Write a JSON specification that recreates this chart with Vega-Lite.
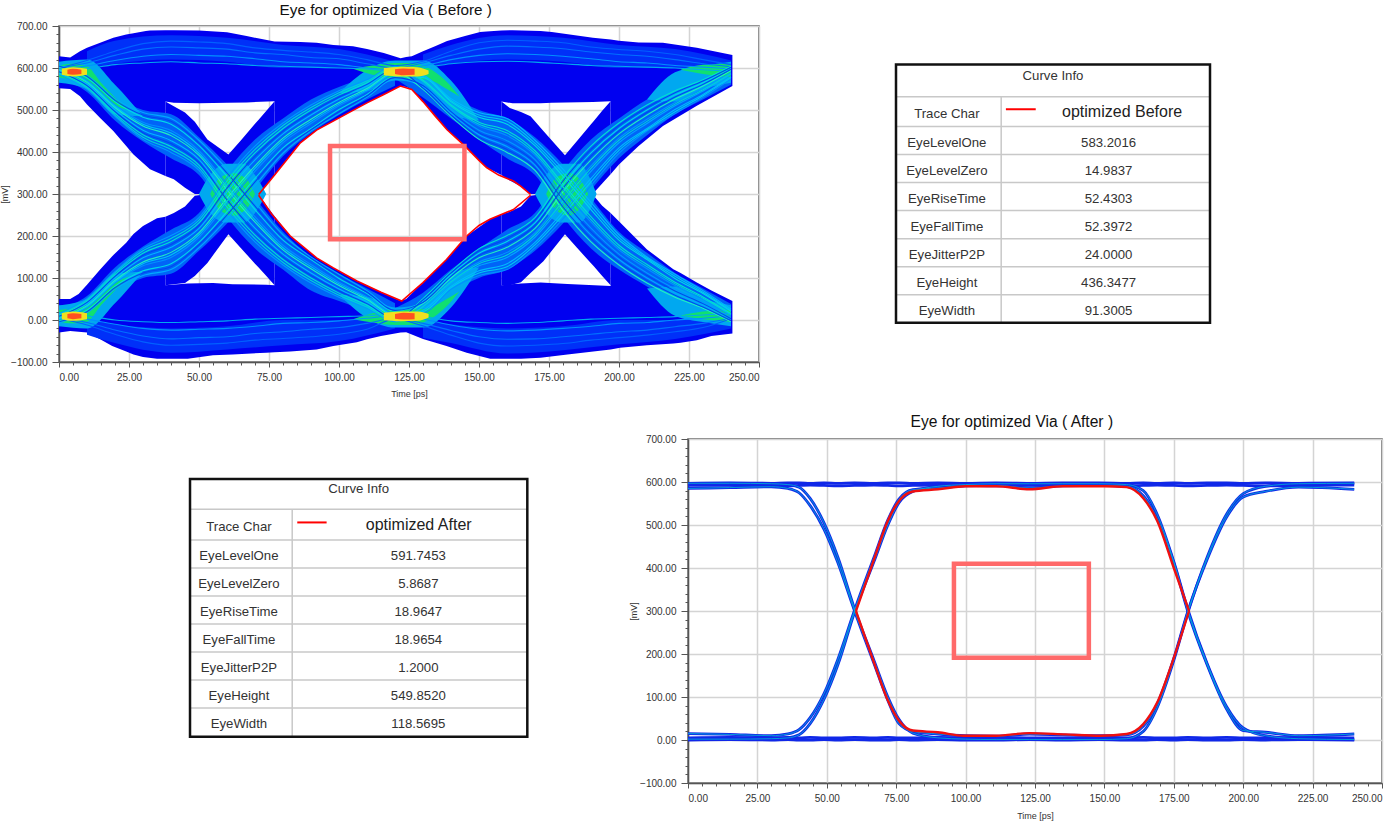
{"$schema":"https://vega.github.io/schema/vega-lite/v6.json","autosize":{"type":"none"},"padding":{"left":59,"top":26,"right":1341,"bottom":801},"background":"white","config":{"font":"Liberation Sans","view":{"stroke":"#555555","strokeWidth":1.5},"axis":{"labelFont":"Liberation Sans","titleFont":"Liberation Sans","labelFontSize":10,"labelColor":"#333333","titleFontSize":9,"titleColor":"#333333","titleFontWeight":"normal","domainColor":"#555555","domainWidth":1.5,"tickColor":"#555555","tickWidth":1,"gridColor":"#d4d4d4","gridWidth":1.5,"format":".2f"}},
"datasets":{
"blue":[
{"s":"T","x":0,"y2":628,"y":552},{"s":"T","x":4,"y2":625,"y":550},{"s":"T","x":7.5,"y2":640,"y":533},{"s":"T","x":10,"y2":648,"y":513},{"s":"T","x":14.7,"y2":660,"y":481},{"s":"T","x":19.4,"y2":672,"y":450},{"s":"T","x":24,"y2":680,"y":414},{"s":"T","x":26.6,"y2":683,"y":394},{"s":"T","x":31,"y2":688,"y":368},{"s":"T","x":32.5,"y2":689,"y":359},{"s":"T","x":38,"y2":690,"y":343},{"s":"T","x":38,"y2":690,"y":520},{"s":"T","x":41,"y2":690,"y":517},{"s":"T","x":50,"y2":689,"y":516},{"s":"T","x":60,"y2":685,"y":517},{"s":"T","x":67,"y2":676,"y":518},{"s":"T","x":77,"y2":663,"y":521},{"s":"T","x":77,"y2":663,"y":345},{"s":"T","x":86.2,"y2":662,"y":422},{"s":"T","x":92,"y2":660,"y":452},{"s":"T","x":98,"y2":655,"y":474},{"s":"T","x":105,"y2":652,"y":499},{"s":"T","x":110,"y2":645,"y":517},{"s":"T","x":116,"y2":636,"y":537},{"s":"T","x":122,"y2":623,"y":557},{"s":"T","x":124,"y2":626,"y":555},{"s":"T","x":126,"y2":628,"y":549},{"s":"T","x":130,"y2":640,"y":520},{"s":"T","x":134.3,"y2":652,"y":486},{"s":"T","x":138.6,"y2":664,"y":453},{"s":"T","x":145,"y2":676,"y":414},{"s":"T","x":150.4,"y2":686,"y":378},{"s":"T","x":152.7,"y2":687,"y":363},{"s":"T","x":158,"y2":689,"y":345},{"s":"T","x":158,"y2":689,"y":520},{"s":"T","x":162,"y2":690,"y":516},{"s":"T","x":172,"y2":688,"y":516},{"s":"T","x":176,"y2":686,"y":517},{"s":"T","x":190.7,"y2":672,"y":519},{"s":"T","x":197,"y2":668,"y":521},{"s":"T","x":197,"y2":668,"y":347},{"s":"T","x":200,"y2":665,"y":370},{"s":"T","x":207,"y2":661,"y":414},{"s":"T","x":215.7,"y2":660,"y":462},{"s":"T","x":227.8,"y2":648,"y":510},{"s":"T","x":240.5,"y2":631,"y":557},
{"s":"B","x":0,"y":-30,"y2":50},{"s":"B","x":4,"y":-26,"y2":50},{"s":"B","x":7,"y":-28,"y2":62},{"s":"B","x":10,"y":-30,"y2":84},{"s":"B","x":14.7,"y":-46,"y2":120},{"s":"B","x":19,"y":-62,"y2":152},{"s":"B","x":24,"y":-75,"y2":184},{"s":"B","x":26.6,"y":-82,"y2":205},{"s":"B","x":30,"y":-88,"y2":224},{"s":"B","x":35,"y":-92,"y2":242},{"s":"B","x":38,"y":-92,"y2":246},{"s":"B","x":38,"y":-92,"y2":83},{"s":"B","x":46,"y":-92,"y2":87},{"s":"B","x":55,"y":-84,"y2":88},{"s":"B","x":62,"y":-82,"y2":85},{"s":"B","x":74,"y":-78,"y2":84},{"s":"B","x":77,"y":-77,"y2":83},{"s":"B","x":77,"y":-77,"y2":247},{"s":"B","x":82.6,"y":-75,"y2":200},{"s":"B","x":92,"y":-70,"y2":148},{"s":"B","x":98,"y":-62,"y2":124},{"s":"B","x":106.4,"y":-53,"y2":93},{"s":"B","x":110,"y":-46,"y2":82},{"s":"B","x":115,"y":-38,"y2":66},{"s":"B","x":122,"y":-30,"y2":45},{"s":"B","x":124,"y":-29,"y2":50},{"s":"B","x":130,"y":-45,"y2":89},{"s":"B","x":138.4,"y":-62,"y2":144},{"s":"B","x":145.6,"y":-78,"y2":200},{"s":"B","x":154,"y":-92,"y2":240},{"s":"B","x":158,"y":-92,"y2":251},{"s":"B","x":158,"y":-92,"y2":83},{"s":"B","x":165,"y":-92,"y2":87},{"s":"B","x":172,"y":-90,"y2":89},{"s":"B","x":181.6,"y":-82,"y2":86},{"s":"B","x":197,"y":-70,"y2":81},{"s":"B","x":197,"y":-70,"y2":255},{"s":"B","x":200.4,"y":-66,"y2":232},{"s":"B","x":210,"y":-60,"y2":168},{"s":"B","x":219.4,"y":-56,"y2":121},{"s":"B","x":222,"y":-54,"y2":112},{"s":"B","x":227.8,"y":-48,"y2":89},{"s":"B","x":233,"y":-38,"y2":70},{"s":"B","x":240.5,"y":-32,"y2":45},
{"s":"U1","x":38,"y":343,"y2":520},{"s":"U1","x":41,"y":335,"y2":509},{"s":"U1","x":45,"y":315,"y2":494},{"s":"U1","x":48.5,"y":300,"y2":472},{"s":"U1","x":53,"y":300,"y2":430},{"s":"U1","x":60.5,"y":300,"y2":394},{"s":"U1","x":65,"y":300,"y2":428},{"s":"U1","x":70,"y":300,"y2":467},{"s":"U1","x":71.3,"y":300,"y2":477},{"s":"U1","x":74.3,"y":323,"y2":500},{"s":"U1","x":77,"y":345,"y2":521},
{"s":"D1","x":38,"y":83,"y2":246},{"s":"D1","x":41,"y":85,"y2":255},{"s":"D1","x":45,"y":88,"y2":270},{"s":"D1","x":48.5,"y":105,"y2":296},{"s":"D1","x":53,"y":136,"y2":300},{"s":"D1","x":60.5,"y":204,"y2":300},{"s":"D1","x":65,"y":171,"y2":300},{"s":"D1","x":70,"y":134,"y2":300},{"s":"D1","x":71.3,"y":125,"y2":300},{"s":"D1","x":74.3,"y":103,"y2":270},{"s":"D1","x":77,"y":83,"y2":247},
{"s":"U2","x":158,"y":345,"y2":520},{"s":"U2","x":161,"y":332,"y2":505},{"s":"U2","x":165,"y":318,"y2":495},{"s":"U2","x":168.4,"y":300,"y2":485},{"s":"U2","x":173,"y":300,"y2":450},{"s":"U2","x":180.7,"y":300,"y2":392},{"s":"U2","x":185,"y":300,"y2":426},{"s":"U2","x":190,"y":300,"y2":466},{"s":"U2","x":191,"y":303,"y2":474},{"s":"U2","x":194,"y":325,"y2":498},{"s":"U2","x":197,"y":347,"y2":521},
{"s":"D2","x":158,"y":83,"y2":251},{"s":"D2","x":161,"y":83,"y2":258},{"s":"D2","x":165,"y":90,"y2":270},{"s":"D2","x":168.4,"y":112,"y2":296},{"s":"D2","x":173,"y":140,"y2":300},{"s":"D2","x":180.7,"y":204,"y2":300},{"s":"D2","x":185,"y":172,"y2":300},{"s":"D2","x":190,"y":135,"y2":300},{"s":"D2","x":191,"y":128,"y2":296},{"s":"D2","x":194,"y":105,"y2":272},{"s":"D2","x":197,"y":83,"y2":255}],
"lobes":[
{"s":"t1","x":10,"y2":640,"y":600},{"s":"t1","x":20,"y2":665,"y":610},{"s":"t1","x":40,"y2":678,"y":620},{"s":"t1","x":60,"y2":672,"y":615},{"s":"t1","x":80,"y2":655,"y":600},{"s":"t1","x":100,"y2":645,"y":600},{"s":"t1","x":120,"y2":615,"y":590},
{"s":"t2","x":130,"y2":632,"y":600},{"s":"t2","x":140,"y2":655,"y":610},{"s":"t2","x":160,"y2":678,"y":620},{"s":"t2","x":180,"y2":672,"y":615},{"s":"t2","x":200,"y2":655,"y":600},{"s":"t2","x":220,"y2":645,"y":600},{"s":"t2","x":240,"y2":618,"y":575},
{"s":"b1","x":10,"y2":0,"y":-35},{"s":"b1","x":20,"y2":-10,"y":-55},{"s":"b1","x":40,"y2":-20,"y":-78},{"s":"b1","x":60,"y2":-15,"y":-70},{"s":"b1","x":80,"y2":0,"y":-60},{"s":"b1","x":100,"y2":0,"y":-50},{"s":"b1","x":120,"y2":10,"y":-20},
{"s":"b2","x":130,"y2":0,"y":-42},{"s":"b2","x":140,"y2":-10,"y":-55},{"s":"b2","x":160,"y2":-20,"y":-80},{"s":"b2","x":180,"y2":-15,"y":-72},{"s":"b2","x":200,"y2":0,"y":-58},{"s":"b2","x":220,"y2":0,"y":-45},{"s":"b2","x":240,"y2":12,"y":-20}],
"bands":[
{"s":"f1","x":0,"y2":615,"y":575},{"s":"f1","x":10,"y2":592,"y":543},{"s":"f1","x":20,"y2":535,"y":475},{"s":"f1","x":30,"y2":500,"y":425},{"s":"f1","x":40,"y2":490,"y":385},{"s":"f1","x":50,"y2":435,"y":345},{"s":"f1","x":60,"y2":370,"y":245},{"s":"f1","x":70,"y2":290,"y":170},{"s":"f1","x":80,"y2":210,"y":120},{"s":"f1","x":90,"y2":150,"y":70},{"s":"f1","x":100,"y2":110,"y":45},{"s":"f1","x":110,"y2":75,"y":20},{"s":"f1","x":120,"y2":40,"y":-15},
{"s":"r1","x":0,"y2":25,"y":-15},{"s":"r1","x":10,"y2":57,"y":8},{"s":"r1","x":20,"y2":125,"y":65},{"s":"r1","x":30,"y2":175,"y":100},{"s":"r1","x":40,"y2":215,"y":110},{"s":"r1","x":50,"y2":255,"y":165},{"s":"r1","x":60,"y2":355,"y":230},{"s":"r1","x":70,"y2":430,"y":310},{"s":"r1","x":80,"y2":480,"y":390},{"s":"r1","x":90,"y2":525,"y":445},{"s":"r1","x":100,"y2":555,"y":488},{"s":"r1","x":110,"y2":580,"y":525},{"s":"r1","x":120,"y2":615,"y":558},
{"s":"f2","x":120,"y2":615,"y":575},{"s":"f2","x":130,"y2":592,"y":530},{"s":"f2","x":140,"y2":535,"y":480},{"s":"f2","x":150,"y2":500,"y":430},{"s":"f2","x":160,"y2":480,"y":385},{"s":"f2","x":170,"y2":435,"y":345},{"s":"f2","x":180,"y2":370,"y":245},{"s":"f2","x":190,"y2":290,"y":170},{"s":"f2","x":200,"y2":210,"y":120},{"s":"f2","x":210,"y2":160,"y":80},{"s":"f2","x":220,"y2":112,"y":45},{"s":"f2","x":230,"y2":75,"y":22},{"s":"f2","x":240,"y2":38,"y":-12},
{"s":"r2","x":120,"y2":28,"y":-15},{"s":"r2","x":130,"y2":65,"y":8},{"s":"r2","x":140,"y2":120,"y":65},{"s":"r2","x":150,"y2":170,"y":100},{"s":"r2","x":160,"y2":215,"y":120},{"s":"r2","x":170,"y2":255,"y":165},{"s":"r2","x":180,"y2":355,"y":230},{"s":"r2","x":190,"y2":430,"y":310},{"s":"r2","x":200,"y2":480,"y":385},{"s":"r2","x":210,"y2":525,"y":440},{"s":"r2","x":220,"y2":555,"y":490},{"s":"r2","x":230,"y2":580,"y":525},{"s":"r2","x":240,"y2":612,"y":560}],
"streaks":[
{"x":0,"v1":606,"v2":602,"v3":599,"v4":596,"v5":593,"v6":589,"v7":585,"a1":-6,"a2":-2,"a3":1,"a4":4,"a5":7,"a6":11,"a7":15,"t1":600,"t2":595,"t3":600,"t4":590,"b1":5,"b2":12,"b3":4,"b4":18,"w1":604,"w2":597,"w3":591,"w4":587,"z1":-4,"z2":3,"z3":9,"z4":13},
{"x":10,"v1":583,"v2":577,"v3":571,"v4":566,"v5":561,"v6":555,"v7":549,"a1":17,"a2":23,"a3":29,"a4":34,"a5":39,"a6":45,"a7":51,"t1":612,"t2":605,"t3":618,"t4":598,"b1":-6,"b2":2,"b3":-12,"b4":10,"w1":580,"w2":568,"w3":558,"w4":552,"z1":20,"z2":32,"z3":42,"z4":48},
{"x":20,"v1":527,"v2":520,"v3":512,"v4":506,"v5":500,"v6":492,"v7":485,"a1":73,"a2":80,"a3":88,"a4":94,"a5":100,"a6":108,"a7":115,"t1":630,"t2":618,"t3":640,"t4":608,"b1":-24,"b2":-10,"b3":-34,"b4":0,"w1":523,"w2":509,"w3":496,"w4":488,"z1":77,"z2":91,"z3":104,"z4":112},
{"x":30,"v1":494,"v2":483,"v3":471,"v4":462,"v5":452,"v6":441,"v7":430,"a1":106,"a2":117,"a3":129,"a4":138,"a5":148,"a6":159,"a7":170,"t1":645,"t2":628,"t3":658,"t4":612,"b1":-38,"b2":-20,"b3":-52,"b4":-4,"w1":488,"w2":466,"w3":446,"w4":435,"z1":112,"z2":134,"z3":154,"z4":165},
{"x":40,"v1":480,"v2":466,"v3":451,"v4":439,"v5":427,"v6":413,"v7":399,"a1":120,"a2":134,"a3":149,"a4":161,"a5":173,"a6":187,"a7":201,"t1":650,"t2":632,"t3":664,"t4":615,"b1":-45,"b2":-24,"b3":-60,"b4":-6,"w1":473,"w2":445,"w3":420,"w4":406,"z1":127,"z2":155,"z3":180,"z4":194},
{"x":50,"v1":428,"v2":415,"v3":403,"v4":392,"v5":382,"v6":369,"v7":356,"a1":172,"a2":185,"a3":197,"a4":208,"a5":218,"a6":231,"a7":244,"t1":648,"t2":630,"t3":662,"t4":612,"b1":-42,"b2":-22,"b3":-58,"b4":-4,"w1":421,"w2":397,"w3":375,"w4":362,"z1":179,"z2":203,"z3":225,"z4":238},
{"x":60,"v1":359,"v2":342,"v3":324,"v4":310,"v5":295,"v6":278,"v7":261,"a1":241,"a2":258,"a3":276,"a4":290,"a5":305,"a6":322,"a7":339,"t1":645,"t2":628,"t3":658,"t4":610,"b1":-40,"b2":-20,"b3":-55,"b4":-2,"w1":350,"w2":317,"w3":286,"w4":269,"z1":250,"z2":283,"z3":314,"z4":331},
{"x":70,"v1":280,"v2":263,"v3":246,"v4":233,"v5":219,"v6":202,"v7":186,"a1":320,"a2":337,"a3":354,"a4":367,"a5":381,"a6":398,"a7":414,"t1":636,"t2":622,"t3":648,"t4":606,"b1":-32,"b2":-15,"b3":-48,"b4":2,"w1":271,"w2":239,"w3":210,"w4":194,"z1":329,"z2":361,"z3":390,"z4":406},
{"x":80,"v1":203,"v2":190,"v3":178,"v4":167,"v5":157,"v6":144,"v7":131,"a1":397,"a2":410,"a3":422,"a4":433,"a5":443,"a6":456,"a7":469,"t1":632,"t2":615,"t3":642,"t4":604,"b1":-28,"b2":-8,"b3":-44,"b4":4,"w1":196,"w2":172,"w3":150,"w4":137,"z1":404,"z2":428,"z3":450,"z4":463},
{"x":90,"v1":150,"v2":144,"v3":132,"v4":122,"v5":112,"v6":100,"v7":88,"a1":450,"a2":456,"a3":468,"a4":478,"a5":488,"a6":500,"a7":512,"t1":625,"t2":612,"t3":638,"t4":602,"b1":-22,"b2":-6,"b3":-40,"b4":6,"w1":147,"w2":127,"w3":106,"w4":94,"z1":453,"z2":473,"z3":494,"z4":506},
{"x":100,"v1":109,"v2":99,"v3":90,"v4":82,"v5":74,"v6":64,"v7":54,"a1":491,"a2":501,"a3":510,"a4":518,"a5":526,"a6":536,"a7":546,"t1":622,"t2":608,"t3":632,"t4":600,"b1":-18,"b2":-2,"b3":-34,"b4":8,"w1":104,"w2":86,"w3":69,"w4":59,"z1":496,"z2":514,"z3":531,"z4":541},
{"x":110,"v1":70,"v2":63,"v3":55,"v4":49,"v5":43,"v6":35,"v7":28,"a1":530,"a2":537,"a3":545,"a4":551,"a5":557,"a6":565,"a7":572,"t1":610,"t2":600,"t3":620,"t4":598,"b1":-8,"b2":4,"b3":-22,"b4":10,"w1":66,"w2":52,"w3":39,"w4":31,"z1":534,"z2":548,"z3":561,"z4":569},
{"x":120,"v1":26,"v2":21,"v3":15,"v4":11,"v5":6,"v6":1,"v7":-4,"a1":574,"a2":579,"a3":585,"a4":589,"a5":594,"a6":599,"a7":604,"t1":600,"t2":596,"t3":606,"t4":592,"b1":4,"b2":10,"b3":2,"b4":16,"w1":23,"w2":13,"w3":3,"w4":-2,"z1":577,"z2":587,"z3":597,"z4":602},
{"x":130,"v1":29,"v2":45,"v3":17,"v4":39,"v5":23,"v6":51,"v7":34,"a1":555,"a2":577,"a3":566,"a4":549,"a5":583,"a6":571,"a7":561,"t1":612,"t2":605,"t3":616,"t4":600,"b1":-8,"b2":2,"b3":-14,"b4":8,"w1":42,"w2":20,"w3":48,"w4":32,"z1":558,"z2":580,"z3":552,"z4":568},
{"x":140,"v1":88,"v2":108,"v3":73,"v4":100,"v5":80,"v6":115,"v7":94,"a1":492,"a2":520,"a3":506,"a4":485,"a5":527,"a6":512,"a7":500,"t1":630,"t2":620,"t3":640,"t4":610,"b1":-25,"b2":-12,"b3":-36,"b4":-2,"w1":104,"w2":77,"w3":112,"w4":91,"z1":496,"z2":523,"z3":488,"z4":509},
{"x":150,"v1":129,"v2":159,"v3":106,"v4":148,"v5":117,"v6":170,"v7":138,"a1":441,"a2":483,"a3":462,"a4":430,"a5":494,"a6":471,"a7":452,"t1":645,"t2":630,"t3":660,"t4":615,"b1":-40,"b2":-22,"b3":-55,"b4":-6,"w1":154,"w2":112,"w3":165,"w4":134,"z1":446,"z2":488,"z3":435,"z4":466},
{"x":160,"v1":149,"v2":187,"v3":120,"v4":173,"v5":134,"v6":201,"v7":161,"a1":413,"a2":466,"a3":439,"a4":399,"a5":480,"a6":451,"a7":427,"t1":652,"t2":634,"t3":666,"t4":616,"b1":-46,"b2":-26,"b3":-62,"b4":-8,"w1":180,"w2":127,"w3":194,"w4":155,"z1":420,"z2":473,"z3":406,"z4":445},
{"x":170,"v1":197,"v2":231,"v3":172,"v4":218,"v5":185,"v6":244,"v7":208,"a1":369,"a2":415,"a3":392,"a4":356,"a5":428,"a6":403,"a7":382,"t1":650,"t2":632,"t3":664,"t4":614,"b1":-45,"b2":-24,"b3":-60,"b4":-6,"w1":225,"w2":179,"w3":238,"w4":203,"z1":375,"z2":421,"z3":362,"z4":397},
{"x":180,"v1":276,"v2":322,"v3":241,"v4":305,"v5":258,"v6":339,"v7":290,"a1":278,"a2":342,"a3":310,"a4":261,"a5":359,"a6":324,"a7":295,"t1":646,"t2":628,"t3":660,"t4":610,"b1":-40,"b2":-20,"b3":-56,"b4":-2,"w1":314,"w2":250,"w3":331,"w4":283,"z1":286,"z2":350,"z3":269,"z4":317},
{"x":190,"v1":354,"v2":398,"v3":320,"v4":381,"v5":337,"v6":414,"v7":367,"a1":202,"a2":263,"a3":233,"a4":186,"a5":280,"a6":246,"a7":219,"t1":638,"t2":622,"t3":650,"t4":606,"b1":-34,"b2":-15,"b3":-48,"b4":2,"w1":390,"w2":329,"w3":406,"w4":361,"z1":210,"z2":271,"z3":194,"z4":239},
{"x":200,"v1":422,"v2":456,"v3":397,"v4":443,"v5":410,"v6":469,"v7":433,"a1":144,"a2":190,"a3":167,"a4":131,"a5":203,"a6":178,"a7":157,"t1":632,"t2":615,"t3":644,"t4":604,"b1":-28,"b2":-8,"b3":-42,"b4":4,"w1":450,"w2":404,"w3":463,"w4":428,"z1":150,"z2":196,"z3":137,"z4":172},
{"x":210,"v1":468,"v2":500,"v3":450,"v4":488,"v5":456,"v6":512,"v7":478,"a1":100,"a2":144,"a3":122,"a4":88,"a5":150,"a6":132,"a7":112,"t1":628,"t2":612,"t3":640,"t4":602,"b1":-24,"b2":-6,"b3":-36,"b4":6,"w1":494,"w2":453,"w3":506,"w4":473,"z1":106,"z2":147,"z3":94,"z4":127},
{"x":220,"v1":510,"v2":536,"v3":491,"v4":526,"v5":501,"v6":546,"v7":518,"a1":64,"a2":99,"a3":82,"a4":54,"a5":109,"a6":90,"a7":74,"t1":620,"t2":606,"t3":632,"t4":600,"b1":-16,"b2":0,"b3":-28,"b4":8,"w1":531,"w2":496,"w3":541,"w4":514,"z1":69,"z2":104,"z3":59,"z4":86},
{"x":230,"v1":545,"v2":565,"v3":530,"v4":557,"v5":537,"v6":572,"v7":551,"a1":35,"a2":63,"a3":49,"a4":28,"a5":70,"a6":55,"a7":43,"t1":610,"t2":602,"t3":620,"t4":596,"b1":-8,"b2":4,"b3":-18,"b4":12,"w1":561,"w2":534,"w3":569,"w4":548,"z1":39,"z2":66,"z3":31,"z4":52},
{"x":240,"v1":585,"v2":599,"v3":574,"v4":594,"v5":579,"v6":604,"v7":589,"a1":1,"a2":21,"a3":11,"a4":-4,"a5":26,"a6":15,"a7":6,"t1":603,"t2":598,"t3":608,"t4":592,"b1":4,"b2":10,"b3":3,"b4":16,"w1":597,"w2":577,"w3":602,"w4":587,"z1":3,"z2":23,"z3":-2,"z4":13}],
"hot":[
{"s":"c1","k":"cyan","x":0,"y2":615,"y":565},{"s":"c1","k":"cyan","x":10,"y2":620,"y":550},{"s":"c1","k":"cyan","x":20,"y2":560,"y":490},{"s":"c1","k":"cyan","x":30,"y2":485,"y":485},
{"s":"c2","k":"cyan","x":0,"y2":35,"y":-15},{"s":"c2","k":"cyan","x":10,"y2":50,"y":-20},{"s":"c2","k":"cyan","x":20,"y2":110,"y":40},{"s":"c2","k":"cyan","x":30,"y2":115,"y":115},
{"s":"c3","k":"cyan","x":100,"y2":540,"y":540},{"s":"c3","k":"cyan","x":110,"y2":595,"y":545},{"s":"c3","k":"cyan","x":120,"y2":618,"y":570},{"s":"c3","k":"cyan","x":130,"y2":618,"y":560},{"s":"c3","k":"cyan","x":140,"y2":570,"y":490},{"s":"c3","k":"cyan","x":150,"y2":475,"y":475},
{"s":"c4","k":"cyan","x":100,"y2":60,"y":60},{"s":"c4","k":"cyan","x":110,"y2":55,"y":5},{"s":"c4","k":"cyan","x":120,"y2":30,"y":-18},{"s":"c4","k":"cyan","x":130,"y2":40,"y":-18},{"s":"c4","k":"cyan","x":140,"y2":110,"y":30},{"s":"c4","k":"cyan","x":150,"y2":125,"y":125},
{"s":"c5","k":"cyan","x":210,"y2":525,"y":525},{"s":"c5","k":"cyan","x":220,"y2":590,"y":520},{"s":"c5","k":"cyan","x":230,"y2":605,"y":550},{"s":"c5","k":"cyan","x":240,"y2":615,"y":565},
{"s":"c6","k":"cyan","x":210,"y2":75,"y":75},{"s":"c6","k":"cyan","x":220,"y2":80,"y":10},{"s":"c6","k":"cyan","x":230,"y2":50,"y":-5},{"s":"c6","k":"cyan","x":240,"y2":35,"y":-15},
{"s":"c7","k":"cyan","x":50,"y2":300,"y":300},{"s":"c7","k":"cyan","x":54,"y2":345,"y":255},{"s":"c7","k":"cyan","x":60,"y2":372,"y":232},{"s":"c7","k":"cyan","x":66,"y2":372,"y":232},{"s":"c7","k":"cyan","x":70,"y2":345,"y":255},{"s":"c7","k":"cyan","x":74,"y2":300,"y":300},
{"s":"c8","k":"cyan","x":170,"y2":300,"y":300},{"s":"c8","k":"cyan","x":174,"y2":345,"y":255},{"s":"c8","k":"cyan","x":180,"y2":372,"y":232},{"s":"c8","k":"cyan","x":186,"y2":372,"y":232},{"s":"c8","k":"cyan","x":189,"y2":345,"y":255},{"s":"c8","k":"cyan","x":192,"y2":300,"y":300},
{"s":"g1","k":"green","x":0,"y2":606,"y":578},{"s":"g1","k":"green","x":5,"y2":610,"y":572},{"s":"g1","k":"green","x":10,"y2":604,"y":565},{"s":"g1","k":"green","x":15,"y2":565,"y":540},{"s":"g1","k":"green","x":20,"y2":530,"y":512},{"s":"g1","k":"green","x":25,"y2":500,"y":500},
{"s":"g2","k":"green","x":0,"y2":24,"y":-4},{"s":"g2","k":"green","x":5,"y2":28,"y":-8},{"s":"g2","k":"green","x":10,"y2":35,"y":-4},{"s":"g2","k":"green","x":15,"y2":60,"y":35},{"s":"g2","k":"green","x":20,"y2":88,"y":70},{"s":"g2","k":"green","x":25,"y2":103,"y":103},
{"s":"g3","k":"green","x":105,"y2":598,"y":598},{"s":"g3","k":"green","x":112,"y2":606,"y":584},{"s":"g3","k":"green","x":120,"y2":612,"y":575},{"s":"g3","k":"green","x":126,"y2":612,"y":575},{"s":"g3","k":"green","x":132,"y2":600,"y":572},{"s":"g3","k":"green","x":138,"y2":570,"y":552},{"s":"g3","k":"green","x":143,"y2":532,"y":532},
{"s":"g4","k":"green","x":105,"y2":2,"y":2},{"s":"g4","k":"green","x":112,"y2":16,"y":-6},{"s":"g4","k":"green","x":120,"y2":25,"y":-12},{"s":"g4","k":"green","x":126,"y2":25,"y":-12},{"s":"g4","k":"green","x":132,"y2":28,"y":0},{"s":"g4","k":"green","x":138,"y2":48,"y":30},{"s":"g4","k":"green","x":143,"y2":68,"y":68},
{"s":"g5","k":"green","x":222,"y2":596,"y":596},{"s":"g5","k":"green","x":230,"y2":608,"y":586},{"s":"g5","k":"green","x":240,"y2":610,"y":578},
{"s":"g6","k":"green","x":222,"y2":11,"y":11},{"s":"g6","k":"green","x":230,"y2":20,"y":2},{"s":"g6","k":"green","x":240,"y2":24,"y":-4},
{"s":"g7","k":"green","x":54,"y2":300,"y":300},{"s":"g7","k":"green","x":57,"y2":335,"y":265},{"s":"g7","k":"green","x":62,"y2":350,"y":248},{"s":"g7","k":"green","x":67,"y2":335,"y":265},{"s":"g7","k":"green","x":70,"y2":300,"y":300},
{"s":"g8","k":"green","x":174,"y2":300,"y":300},{"s":"g8","k":"green","x":177,"y2":335,"y":265},{"s":"g8","k":"green","x":182,"y2":350,"y":248},{"s":"g8","k":"green","x":186,"y2":335,"y":265},{"s":"g8","k":"green","x":189,"y2":300,"y":300},
{"s":"y1","k":"yellow","x":1,"y2":598,"y":584},{"s":"y1","k":"yellow","x":5,"y2":602,"y":580},{"s":"y1","k":"yellow","x":10,"y2":598,"y":584},
{"s":"y2","k":"yellow","x":1,"y2":16,"y":2},{"s":"y2","k":"yellow","x":5,"y2":20,"y":-2},{"s":"y2","k":"yellow","x":10,"y2":16,"y":2},
{"s":"y3","k":"yellow","x":116,"y2":600,"y":583},{"s":"y3","k":"yellow","x":122,"y2":603,"y":580},{"s":"y3","k":"yellow","x":128,"y2":602,"y":580},{"s":"y3","k":"yellow","x":132,"y2":594,"y":586},
{"s":"y4","k":"yellow","x":116,"y2":17,"y":0},{"s":"y4","k":"yellow","x":122,"y2":20,"y":-3},{"s":"y4","k":"yellow","x":128,"y2":20,"y":-2},{"s":"y4","k":"yellow","x":132,"y2":14,"y":6},
{"s":"o1","k":"red","x":3,"y2":596,"y":586},{"s":"o1","k":"red","x":5,"y2":598,"y":584},{"s":"o1","k":"red","x":8,"y2":596,"y":586},
{"s":"o2","k":"red","x":3,"y2":14,"y":4},{"s":"o2","k":"red","x":5,"y2":16,"y":2},{"s":"o2","k":"red","x":8,"y2":14,"y":4},
{"s":"o3","k":"red","x":120,"y2":597,"y":586},{"s":"o3","k":"red","x":123,"y2":599,"y":583},{"s":"o3","k":"red","x":127,"y2":598,"y":584},
{"s":"o4","k":"red","x":120,"y2":14,"y":3},{"s":"o4","k":"red","x":123,"y2":17,"y":1},{"s":"o4","k":"red","x":127,"y2":16,"y":2}],
"eye1":[
{"s":"u","x":71.3,"y":299},{"s":"u","x":74.3,"y":323},{"s":"u","x":77,"y":345},{"s":"u","x":86.2,"y":422},{"s":"u","x":92,"y":452},{"s":"u","x":98.1,"y":474},{"s":"u","x":105,"y":499},{"s":"u","x":110,"y":517},{"s":"u","x":116,"y":537},{"s":"u","x":121.9,"y":557},{"s":"u","x":126,"y":549},{"s":"u","x":130,"y":520},{"s":"u","x":134.3,"y":486},{"s":"u","x":138.6,"y":453},{"s":"u","x":145,"y":414},{"s":"u","x":150,"y":380},{"s":"u","x":152.7,"y":363},{"s":"u","x":157,"y":345},{"s":"u","x":162.3,"y":331},{"s":"u","x":165,"y":318},{"s":"u","x":168.4,"y":299},
{"s":"l","x":71.3,"y":297},{"s":"l","x":76,"y":252},{"s":"l","x":82.6,"y":200},{"s":"l","x":92,"y":148},{"s":"l","x":98,"y":124},{"s":"l","x":106.4,"y":93},{"s":"l","x":115,"y":66},{"s":"l","x":122.4,"y":45},{"s":"l","x":130,"y":89},{"s":"l","x":138.4,"y":144},{"s":"l","x":145.6,"y":200},{"s":"l","x":150,"y":225},{"s":"l","x":153.9,"y":240},{"s":"l","x":162.3,"y":263},{"s":"l","x":168.4,"y":297}],
"after":[
{"x":0,"t1":597,"t2":585,"t3":2,"t4":15,"f1":597,"f2":0,"f3":592,"f4":5},{"x":15,"t1":597,"t2":587,"t3":2,"t4":13,"f1":598,"f2":1,"f3":593,"f4":6},{"x":30,"t1":596,"t2":589,"t3":3,"t4":10,"f1":597,"f2":0,"f3":592,"f4":5},{"x":36,"t1":594,"t2":585,"t3":5,"t4":14,"f1":598,"f2":1,"f3":591,"f4":6},{"x":40,"t1":588,"t2":575,"t3":12,"t4":24,"f1":598,"f2":0,"f3":592,"f4":5},{"x":44,"t1":562,"t2":545,"t3":38,"t4":52,"f1":597,"f2":0,"f3":593,"f4":6},{"x":49,"t1":505,"t2":490,"t3":95,"t4":108,"f1":598,"f2":1,"f3":592,"f4":5},{"x":54,"t1":425,"t2":412,"t3":175,"t4":188,"f1":597,"f2":0,"f3":591,"f4":5},{"x":60,"t1":305,"t2":300,"t3":297,"t4":302,"f1":598,"f2":1,"f3":592,"f4":6},{"x":67,"t1":185,"t2":178,"t3":415,"t4":425,"f1":597,"f2":0,"f3":593,"f4":5},{"x":72,"t1":100,"t2":92,"t3":500,"t4":512,"f1":598,"f2":0,"f3":592,"f4":6},{"x":76,"t1":48,"t2":38,"t3":552,"t4":560,"f1":598,"f2":1,"f3":591,"f4":5},{"x":81,"t1":16,"t2":20,"t3":578,"t4":582,"f1":597,"f2":0,"f3":592,"f4":5},{"x":90,"t1":5,"t2":14,"t3":590,"t4":586,"f1":598,"f2":1,"f3":593,"f4":6},{"x":100,"t1":2,"t2":10,"t3":594,"t4":591,"f1":597,"f2":0,"f3":592,"f4":5},{"x":111,"t1":1,"t2":9,"t3":596,"t4":592,"f1":598,"f2":0,"f3":591,"f4":6},{"x":123,"t1":1,"t2":14,"t3":596,"t4":586,"f1":597,"f2":1,"f3":592,"f4":5},{"x":135,"t1":1,"t2":12,"t3":596,"t4":591,"f1":598,"f2":0,"f3":593,"f4":5},{"x":148,"t1":1,"t2":10,"t3":596,"t4":592,"f1":598,"f2":1,"f3":592,"f4":6},{"x":158,"t1":3,"t2":12,"t3":594,"t4":590,"f1":597,"f2":0,"f3":591,"f4":5},{"x":164,"t1":20,"t2":32,"t3":580,"t4":568,"f1":598,"f2":0,"f3":592,"f4":6},{"x":169,"t1":75,"t2":83,"t3":525,"t4":515,"f1":597,"f2":1,"f3":593,"f4":5},{"x":175,"t1":185,"t2":190,"t3":415,"t4":412,"f1":598,"f2":0,"f3":592,"f4":5},{"x":180,"t1":295,"t2":298,"t3":305,"t4":300,"f1":597,"f2":1,"f3":591,"f4":6},{"x":187,"t1":425,"t2":420,"t3":178,"t4":175,"f1":598,"f2":0,"f3":592,"f4":5},{"x":194,"t1":525,"t2":518,"t3":78,"t4":72,"f1":598,"f2":0,"f3":593,"f4":6},{"x":200,"t1":573,"t2":565,"t3":28,"t4":22,"f1":597,"f2":1,"f3":592,"f4":5},{"x":208,"t1":590,"t2":578,"t3":10,"t4":18,"f1":598,"f2":0,"f3":591,"f4":5},{"x":220,"t1":596,"t2":588,"t3":3,"t4":10,"f1":597,"f2":1,"f3":592,"f4":6},{"x":240,"t1":597,"t2":583,"t3":1,"t4":14,"f1":598,"f2":0,"f3":593,"f4":5}],
"eye2":[
{"s":"u","x":60.5,"y":300},{"s":"u","x":67,"y":420},{"s":"u","x":72,"y":510},{"s":"u","x":76.5,"y":560},{"s":"u","x":81,"y":578},{"s":"u","x":90,"y":583},{"s":"u","x":100,"y":590},{"s":"u","x":111,"y":590},{"s":"u","x":123,"y":583},{"s":"u","x":135,"y":590},{"s":"u","x":150,"y":590},{"s":"u","x":158,"y":588},{"s":"u","x":164,"y":562},{"s":"u","x":169,"y":510},{"s":"u","x":175,"y":400},{"s":"u","x":180.5,"y":300},
{"s":"l","x":60.5,"y":300},{"s":"l","x":67,"y":180},{"s":"l","x":71.8,"y":95},{"s":"l","x":76.5,"y":41},{"s":"l","x":81,"y":22},{"s":"l","x":90,"y":18},{"s":"l","x":99.4,"y":10},{"s":"l","x":111,"y":10},{"s":"l","x":123,"y":16},{"s":"l","x":136,"y":13},{"s":"l","x":148.6,"y":10},{"s":"l","x":158,"y":14},{"s":"l","x":164,"y":37},{"s":"l","x":169,"y":87},{"s":"l","x":175,"y":191},{"s":"l","x":180.5,"y":300}],
"table1":[
{"kind":"frame","x":0,"x2":1,"k":-1.804,"k2":7.404},
{"kind":"h","x":0,"x2":1,"k":-0.654},{"kind":"h","x":0,"x2":1,"k":0.404},{"kind":"h","x":0,"x2":1,"k":1.404},{"kind":"h","x":0,"x2":1,"k":2.404},{"kind":"h","x":0,"x2":1,"k":3.404},{"kind":"h","x":0,"x2":1,"k":4.404},{"kind":"h","x":0,"x2":1,"k":5.404},{"kind":"h","x":0,"x2":1,"k":6.404},
{"kind":"v","x":0.335,"k":-0.654,"k2":7.404},
{"kind":"text","x":0.5,"k":-1.4,"t":"Curve Info"},{"kind":"text","x":0.162,"k":-0.04,"t":"Trace Char"},
{"kind":"text","x":0.162,"k":1,"t":"EyeLevelOne"},{"kind":"text","x":0.677,"k":1,"t":"583.2016"},
{"kind":"text","x":0.162,"k":2,"t":"EyeLevelZero"},{"kind":"text","x":0.677,"k":2,"t":"14.9837"},
{"kind":"text","x":0.162,"k":3,"t":"EyeRiseTime"},{"kind":"text","x":0.677,"k":3,"t":"52.4303"},
{"kind":"text","x":0.162,"k":4,"t":"EyeFallTime"},{"kind":"text","x":0.677,"k":4,"t":"52.3972"},
{"kind":"text","x":0.162,"k":5,"t":"EyeJitterP2P"},{"kind":"text","x":0.677,"k":5,"t":"24.0000"},
{"kind":"text","x":0.162,"k":6,"t":"EyeHeight"},{"kind":"text","x":0.677,"k":6,"t":"436.3477"},
{"kind":"text","x":0.162,"k":7,"t":"EyeWidth"},{"kind":"text","x":0.677,"k":7,"t":"91.3005"},
{"kind":"legendtext","x":0.72,"k":-0.12,"t":"optimized Before"},
{"kind":"legendline","x":0.35,"x2":0.445,"k":-0.21}],
"table2":[
{"kind":"frame","x":0,"x2":1,"k":-1.76,"k2":7.44},
{"kind":"h","x":0,"x2":1,"k":-0.68},{"kind":"h","x":0,"x2":1,"k":0.418},{"kind":"h","x":0,"x2":1,"k":1.418},{"kind":"h","x":0,"x2":1,"k":2.418},{"kind":"h","x":0,"x2":1,"k":3.418},{"kind":"h","x":0,"x2":1,"k":4.418},{"kind":"h","x":0,"x2":1,"k":5.418},{"kind":"h","x":0,"x2":1,"k":6.418},
{"kind":"v","x":0.303,"k":-0.68,"k2":7.44},
{"kind":"text","x":0.5,"k":-1.4,"t":"Curve Info"},{"kind":"text","x":0.145,"k":-0.04,"t":"Trace Char"},
{"kind":"text","x":0.145,"k":1,"t":"EyeLevelOne"},{"kind":"text","x":0.677,"k":1,"t":"591.7453"},
{"kind":"text","x":0.145,"k":2,"t":"EyeLevelZero"},{"kind":"text","x":0.677,"k":2,"t":"5.8687"},
{"kind":"text","x":0.145,"k":3,"t":"EyeRiseTime"},{"kind":"text","x":0.677,"k":3,"t":"18.9647"},
{"kind":"text","x":0.145,"k":4,"t":"EyeFallTime"},{"kind":"text","x":0.677,"k":4,"t":"18.9654"},
{"kind":"text","x":0.145,"k":5,"t":"EyeJitterP2P"},{"kind":"text","x":0.677,"k":5,"t":"1.2000"},
{"kind":"text","x":0.145,"k":6,"t":"EyeHeight"},{"kind":"text","x":0.677,"k":6,"t":"549.8520"},
{"kind":"text","x":0.145,"k":7,"t":"EyeWidth"},{"kind":"text","x":0.677,"k":7,"t":"118.5695"},
{"kind":"legendtext","x":0.678,"k":-0.12,"t":"optimized After"},
{"kind":"legendline","x":0.318,"x2":0.405,"k":-0.21}]
},
"bounds":"flush","spacing":413,
"vconcat":[
{"bounds":"flush","spacing":137,"hconcat":[
{"width":700,"height":336,"title":{"text":"Eye for optimized Via ( Before )","anchor":"start","dx":279,"fontSize":15.3,"fontWeight":"normal","font":"Liberation Sans","color":"#111111","offset":3},
"resolve":{"axis":{"x":"independent","y":"independent"},"scale":{"color":"independent"}},
"encoding":{"x":{"field":"x","type":"quantitative","scale":{"domain":[0,250],"nice":false,"zero":false},"axis":null},"y":{"field":"y","type":"quantitative","scale":{"domain":[-100,700],"nice":false,"zero":false},"axis":null}},
"layer":[
{"data":{"name":"blue"},"mark":{"type":"area","color":"#0000f0","interpolate":"linear"},
"encoding":{"x":{"field":"x","type":"quantitative","scale":{"domain":[0,250],"nice":false,"zero":false},"axis":{"orient":"bottom","values":[0,25,50,75,100,125,150,175,200,225,250],"grid":true,"tickSize":5,"labelPadding":5,"title":"Time [ps]","titlePadding":7}},
"y":{"field":"y","type":"quantitative","scale":{"domain":[-100,700],"nice":false,"zero":false},"axis":{"orient":"left","values":[-100,0,100,200,300,400,500,600,700],"grid":true,"tickSize":7,"labelPadding":5,"title":"[mV]","titlePadding":1}},"y2":{"field":"y2"},"detail":{"field":"s"}}},
{"data":{"name":"lobes"},"mark":{"type":"area","color":"#0030f8","interpolate":"monotone"},
"encoding":{"x":{"field":"x","type":"quantitative","scale":{"domain":[0,250],"nice":false,"zero":false},"axis":{"orient":"bottom","values":[5,10,15,20,30,35,40,45,55,60,65,70,80,85,90,95,105,110,115,120,130,135,140,145,155,160,165,170,180,185,190,195,205,210,215,220,230,235,240,245],"grid":false,"domain":false,"labels":false,"tickSize":3,"title":null}},
"y":{"field":"y","type":"quantitative","scale":{"domain":[-100,700],"nice":false,"zero":false},"axis":{"orient":"left","values":[-80,-60,-40,-20,20,40,60,80,120,140,160,180,220,240,260,280,320,340,360,380,420,440,460,480,520,540,560,580,620,640,660,680],"grid":false,"domain":false,"labels":false,"tickSize":3,"title":null}},"y2":{"field":"y2"},"detail":{"field":"s"}}},
{"data":{"name":"bands"},"mark":{"type":"area","color":"#0064f8","interpolate":"monotone"},"encoding":{"y2":{"field":"y2"},"detail":{"field":"s"}}},
{"data":{"name":"hot"},"transform":[{"filter":"datum.k==='cyan'"}],"mark":{"type":"area","interpolate":"monotone","color":"#00a8f0"},"encoding":{"y2":{"field":"y2"},"detail":{"field":"s"}}},
{"data":{"name":"hot"},"transform":[{"filter":"datum.k==='green'"}],"mark":{"type":"area","interpolate":"monotone","color":"#10e070"},"encoding":{"y2":{"field":"y2"},"detail":{"field":"s"}}},
{"data":{"name":"streaks"},"transform":[{"fold":["t1","t2","t3","t4","b1","b2","b3","b4","v1","v2","v3","v4","v5","v6","v7","a1","a2","a3","a4","a5","a6","a7","w1","w2","w3","w4","z1","z2","z3","z4"],"as":["s","y"]}],"mark":{"type":"line","interpolate":"monotone","strokeWidth":1.1},
"encoding":{"color":{"field":"s","type":"nominal","legend":null,"scale":{"domain":["t1","t2","t3","t4","b1","b2","b3","b4","v1","v2","v3","v4","v5","v6","v7","a1","a2","a3","a4","a5","a6","a7","w1","w2","w3","w4","z1","z2","z3","z4"],"range":["#0070ff","#0090ff","#0060ff","#00a8f0","#0070ff","#0090ff","#0060ff","#00a8f0","#00a8ff","#00d8e8","#0090ff","#20f0c0","#00b8ff","#00e0d0","#0098ff","#00a8ff","#00d8e8","#0090ff","#20f0c0","#00b8ff","#00e0d0","#0098ff","#0048f0","#00c8f0","#0048f0","#00d0d8","#0048f0","#00c8f0","#0048f0","#00d0d8"]}}}},
{"data":{"name":"hot"},"transform":[{"filter":"datum.k==='yellow'||datum.k==='red'"}],"mark":{"type":"area","interpolate":"monotone"},"encoding":{"y2":{"field":"y2"},"detail":{"field":"s"},"color":{"field":"k","type":"nominal","legend":null,"scale":{"domain":["yellow","red"],"range":["#f0e020","#ff5020"]}}}},
{"data":{"name":"eye1"},"mark":{"type":"line","color":"#ff0000","strokeWidth":1.6},"encoding":{"detail":{"field":"s"}}},
{"data":{"values":[{"x":96.8,"x2":144.8,"y":414,"y2":192}]},"mark":{"type":"rect","fill":"transparent","stroke":"#ff6a6a","strokeWidth":4.5},"encoding":{"x2":{"field":"x2"},"y2":{"field":"y2"}}}
]},
{"width":314,"height":336,"view":{"stroke":null},"data":{"name":"table1"},
"encoding":{"x":{"field":"x","type":"quantitative","scale":{"domain":[0,1],"nice":false,"zero":false},"axis":null},"y":{"field":"k","type":"quantitative","scale":{"domain":[8.804,-3.179],"nice":false,"zero":false},"axis":null}},
"layer":[
{"transform":[{"filter":"datum.kind==='h'"}],"mark":{"type":"rule","color":"#c8c8c8","strokeWidth":1.5},"encoding":{"x2":{"field":"x2"}}},
{"transform":[{"filter":"datum.kind==='v'"}],"mark":{"type":"rule","color":"#c8c8c8","strokeWidth":1.5},"encoding":{"y2":{"field":"k2"}}},
{"transform":[{"filter":"datum.kind==='frame'"}],"mark":{"type":"rect","fill":"transparent","stroke":"#111111","strokeWidth":2.5},"encoding":{"x2":{"field":"x2"},"y2":{"field":"k2"}}},
{"transform":[{"filter":"datum.kind==='legendline'"}],"mark":{"type":"rule","color":"#ff0000","strokeWidth":2},"encoding":{"x2":{"field":"x2"}}},
{"transform":[{"filter":"datum.kind==='text'"}],"mark":{"type":"text","fontSize":13.2,"color":"#333333","align":"center","baseline":"middle","font":"Liberation Sans"},"encoding":{"text":{"field":"t"}}},
{"transform":[{"filter":"datum.kind==='legendtext'"}],"mark":{"type":"text","fontSize":16,"color":"#222222","align":"center","baseline":"middle","font":"Liberation Sans"},"encoding":{"text":{"field":"t"}}}
]}
]},
{"bounds":"flush","spacing":68,"hconcat":[
{"width":561,"height":344,"view":{"stroke":null},"data":{"name":"table2"},
"encoding":{"x":{"field":"x","type":"quantitative","scale":{"domain":[-0.3884,1.2748],"nice":false,"zero":false},"axis":null},"y":{"field":"k","type":"quantitative","scale":{"domain":[9.096,-3.19],"nice":false,"zero":false},"axis":null}},
"layer":[
{"transform":[{"filter":"datum.kind==='h'"}],"mark":{"type":"rule","color":"#c8c8c8","strokeWidth":1.5},"encoding":{"x2":{"field":"x2"}}},
{"transform":[{"filter":"datum.kind==='v'"}],"mark":{"type":"rule","color":"#c8c8c8","strokeWidth":1.5},"encoding":{"y2":{"field":"k2"}}},
{"transform":[{"filter":"datum.kind==='frame'"}],"mark":{"type":"rect","fill":"transparent","stroke":"#111111","strokeWidth":2.5},"encoding":{"x2":{"field":"x2"},"y2":{"field":"k2"}}},
{"transform":[{"filter":"datum.kind==='legendline'"}],"mark":{"type":"rule","color":"#ff0000","strokeWidth":2},"encoding":{"x2":{"field":"x2"}}},
{"transform":[{"filter":"datum.kind==='text'"}],"mark":{"type":"text","fontSize":13.2,"color":"#333333","align":"center","baseline":"middle","font":"Liberation Sans"},"encoding":{"text":{"field":"t"}}},
{"transform":[{"filter":"datum.kind==='legendtext'"}],"mark":{"type":"text","fontSize":16,"color":"#222222","align":"center","baseline":"middle","font":"Liberation Sans"},"encoding":{"text":{"field":"t"}}}
]},
{"width":694,"height":344,"title":{"text":"Eye for optimized Via ( After )","anchor":"start","dx":281,"fontSize":15.6,"fontWeight":"normal","font":"Liberation Sans","color":"#111111","offset":3},
"resolve":{"axis":{"x":"independent","y":"independent"}},
"encoding":{"x":{"field":"x","type":"quantitative","scale":{"domain":[0,250],"nice":false,"zero":false},"axis":null},"y":{"field":"y","type":"quantitative","scale":{"domain":[-100,700],"nice":false,"zero":false},"axis":null}},
"layer":[
{"data":{"name":"after"},"transform":[{"fold":["f1","f2","f3","f4","t1","t2","t3","t4"],"as":["s","y"]}],"mark":{"type":"line","color":"#1028e8","strokeWidth":2.8,"interpolate":"monotone"},
"encoding":{"x":{"field":"x","type":"quantitative","scale":{"domain":[0,250],"nice":false,"zero":false},"axis":{"orient":"bottom","values":[0,25,50,75,100,125,150,175,200,225,250],"grid":true,"tickSize":5,"labelPadding":5,"title":"Time [ps]","titlePadding":8}},
"y":{"field":"y","type":"quantitative","scale":{"domain":[-100,700],"nice":false,"zero":false},"axis":{"orient":"left","values":[-100,0,100,200,300,400,500,600,700],"grid":true,"tickSize":7,"labelPadding":5,"title":"[mV]","titlePadding":1}},"detail":{"field":"s"}}},
{"data":{"name":"after"},"transform":[{"fold":["t1","t2","t3","t4"],"as":["s","y"]}],"mark":{"type":"line","color":"#00b8d8","strokeWidth":0.8,"interpolate":"monotone"},
"encoding":{"x":{"field":"x","type":"quantitative","scale":{"domain":[0,250],"nice":false,"zero":false},"axis":{"orient":"bottom","values":[5,10,15,20,30,35,40,45,55,60,65,70,80,85,90,95,105,110,115,120,130,135,140,145,155,160,165,170,180,185,190,195,205,210,215,220,230,235,240,245],"grid":false,"domain":false,"labels":false,"tickSize":3,"title":null}},
"y":{"field":"y","type":"quantitative","scale":{"domain":[-100,700],"nice":false,"zero":false},"axis":{"orient":"left","values":[-80,-60,-40,-20,20,40,60,80,120,140,160,180,220,240,260,280,320,340,360,380,420,440,460,480,520,540,560,580,620,640,660,680],"grid":false,"domain":false,"labels":false,"tickSize":3,"title":null}},"detail":{"field":"s"}}},
{"data":{"name":"eye2"},"mark":{"type":"line","color":"#f01010","strokeWidth":2.4,"interpolate":"monotone"},"encoding":{"detail":{"field":"s"}}},
{"data":{"values":[{"x":95.8,"x2":144.4,"y":410,"y2":191.5}]},"mark":{"type":"rect","fill":"transparent","stroke":"#ff6a6a","strokeWidth":4.5},"encoding":{"x2":{"field":"x2"},"y2":{"field":"y2"}}}
]}
]}
]}
